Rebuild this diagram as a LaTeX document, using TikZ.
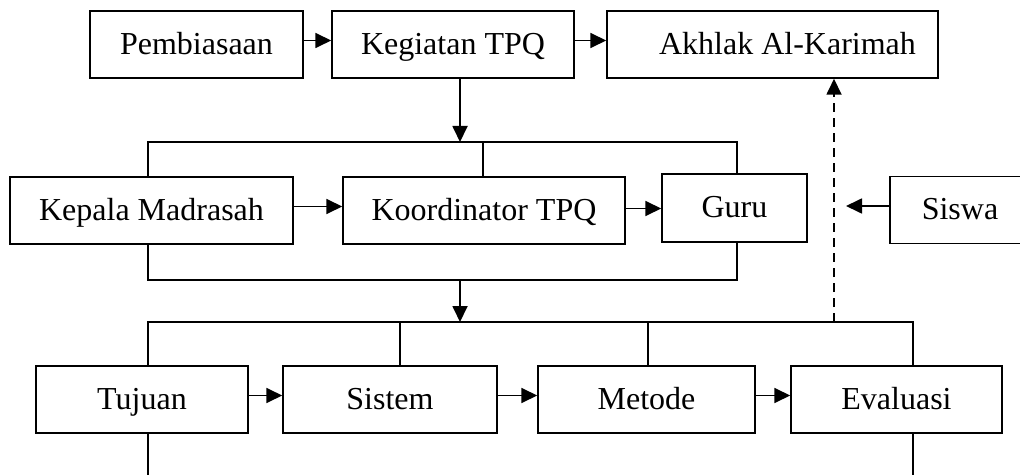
\documentclass[tikz,border=0pt]{standalone}
\usepackage{fontspec}
\setmainfont{Liberation Serif}
\usetikzlibrary{positioning,arrows.meta,calc}

\begin{document}
\begin{tikzpicture}[
    x=0.5pt, y=-0.5pt,
    >={Triangle[length=8pt,width=7.5pt]},
    line width=0.6pt,
    box/.style={
        rectangle,
        draw,
        line width=0.75pt,
        inner sep=0pt,
        minimum height=33.5pt,
        text height=10.6pt,
        text depth=1pt,
        align=center,
        font=\fontsize{16}{19}\selectfont
    },
    link/.style={->, line width=0.9pt},
    dashlink/.style={->, line width=0.9pt, dash pattern=on 4.5pt off 3pt}
]
\clip (0,0) rectangle (1020,475);

% top row
\node[box, minimum width=106.5pt] (pemb) at (196.5,44.5) {Pembiasaan};
\node[box, minimum width=121pt] (keg) at (453,44.5) {Kegiatan TPQ};
\node[box, minimum width=165.5pt] (akh) at (772.5,44.5) {\hspace*{15pt}Akhlak Al-Karimah};

\draw[link] ([yshift=2pt]pemb.east) -- ([yshift=2pt]keg.west);
\draw[link] ([yshift=2pt]keg.east) -- ([yshift=2pt]akh.west);

% middle row
\node[box, minimum width=141.5pt] (kep) at (151.5,210.5) {Kepala Madrasah};
\node[box, minimum width=141pt] (koor) at (484,210.5) {Koordinator TPQ};
\node[box, minimum width=72.5pt, minimum height=34pt] (guru) at (734.5,208) {Guru};
\node[box, minimum width=70pt] (siswa) at (960,210) {Siswa};

\draw[link] ([yshift=2pt]kep.east) -- ([yshift=2pt]koor.west);
\draw[link] ([yshift=1pt]koor.east) -- ([yshift=1pt]koor.east -| guru.west);

% bottom row
\node[box, minimum width=106pt] (tuj) at (142,399.5) {Tujuan};
\node[box, minimum width=107pt] (sis) at (390,399.5) {Sistem};
\node[box, minimum width=108.5pt] (met) at (646.5,399.5) {Metode};
\node[box, minimum width=105.5pt] (eva) at (896.5,399.5) {Evaluasi};

\draw[link] ([yshift=2pt]tuj.east) -- ([yshift=2pt]sis.west);
\draw[link] ([yshift=2pt]sis.east) -- ([yshift=2pt]met.west);
\draw[link] ([yshift=2pt]met.east) -- ([yshift=2pt]eva.west);

% brackets
\coordinate (topL) at (148,142);
\coordinate (topR) at (737,142);
\coordinate (topM) at (483,142);
\coordinate (topIn) at (460,142);
\draw (topL |- kep.north) -- (topL) -- (topR) -- (topR |- guru.north);
\draw (topM) -- (topM |- koor.north);
\draw[link] (topIn |- keg.south) -- (topIn);

\coordinate (midL) at (148,280);
\coordinate (midR) at (737,280);
\coordinate (midOut) at (460,280);
\draw (midL |- kep.south) -- (midL) -- (midR) -- (midR |- guru.south);

\coordinate (lowL) at (148,322);
\coordinate (lowR) at (913,322);
\coordinate (lowIn) at (460,322);
\coordinate (lowS) at (400,322);
\coordinate (lowM) at (648,322);
\coordinate (dash) at (834,322);
\draw[link] (midOut) -- (lowIn);
\draw (lowL |- tuj.north) -- (lowL) -- (lowR) -- (lowR |- eva.north);
\draw (lowS) -- (lowS |- sis.north);
\draw (lowM) -- (lowM |- met.north);
\draw (lowL |- tuj.south) -- ++(0,60);
\draw (lowR |- eva.south) -- ++(0,60);

% to akhlak
\draw[dashlink] (dash) -- (dash |- akh.south);
\draw[link] ([yshift=2pt]siswa.west) -- ([yshift=2pt,xshift=6pt]siswa.west -| dash);

\end{tikzpicture}
\end{document}
